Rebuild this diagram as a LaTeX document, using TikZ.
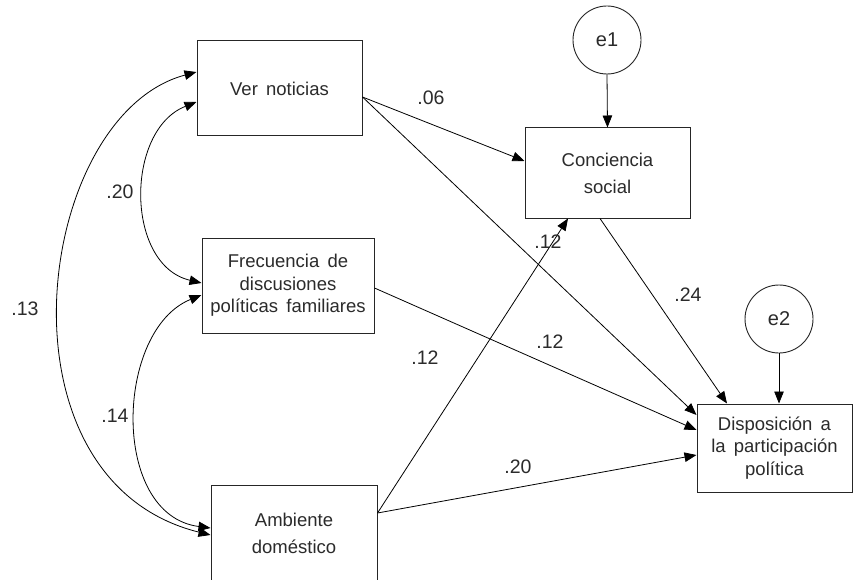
\documentclass[tikz,border=0pt]{standalone}
\usepackage{fontspec}
\setmainfont{Liberation Sans}[WordSpace=1.6]
\usetikzlibrary{arrows.meta}
\definecolor{txt}{HTML}{2B2B2B}
\begin{document}
\begin{tikzpicture}[x=1pt,y=-1pt,
  var/.style={draw=black!85,line width=1pt,rectangle,inner sep=0pt,align=center,
    text=txt,font=\fontsize{18.5}{27}\selectfont},
  var3/.style={var,font=\fontsize{18.5}{22.5}\selectfont},
  err/.style={draw=black!85,line width=0.9pt,circle,minimum size=68pt,inner sep=0pt,
    text=txt,font=\fontsize{20}{22}\selectfont},
  path/.style={draw=black,line width=0.8pt,-{Triangle[length=12pt,width=9.5pt]}},
  cov/.style={draw=black,line width=0.8pt,{Triangle[length=12pt,width=9.5pt]}-{Triangle[length=12pt,width=9.5pt]}},
  coef/.style={text=txt,font=\fontsize{19.5}{22}\selectfont,inner sep=0pt}]
\useasboundingbox (0,0) rectangle (853,580);
\fill[white] (0,0) rectangle (853,580);
% variables
\node[var,minimum width=165pt,minimum height=95pt] (ver) at (279.5,88.5) {Ver noticias};
\node[var3,minimum width=172pt,minimum height=95pt] (frec) at (288,285.5) {Frecuencia de\\discusiones\\políticas familiares};
\node[var,minimum width=166pt,minimum height=96pt] (amb) at (294,533) {Ambiente\\doméstico};
\node[var,minimum width=165pt,minimum height=90pt] (conc) at (607.5,173) {Conciencia\\social};
\node[var3,minimum width=155pt,minimum height=88pt] (disp) at (774.5,448) {Disposición a\\la participación\\política};
\node[err] (e1) at (607,40) {e1};
\node[err] (e2) at (779,319) {e2};
% paths
\draw[path] ([yshift=-8.5pt]ver.east) -- ([yshift=12pt]conc.west);
\draw[path] ([yshift=-8.5pt]ver.east) -- ([yshift=33pt]disp.west);
\draw[path] ([yshift=-2.5pt]frec.east) -- ([yshift=18pt]disp.west);
\draw[path] ([yshift=20pt]amb.east) -- ([xshift=-39.5pt]conc.south);
\draw[path] ([yshift=20pt]amb.east) -- ([yshift=-7pt]disp.west);
\draw[path] ([xshift=-7.5pt]conc.south) -- ([xshift=-47.5pt]disp.north);
\draw[path] (e1.south) -- (conc.north);
\draw[path] (e2.south) -- ([xshift=4.5pt]disp.north);
% covariances
\draw[cov] ([yshift=16.5pt]ver.west) .. controls (35,115) and (-12,480) .. ([yshift=-2pt]amb.west);
\draw[cov] ([yshift=-13.5pt]ver.west) .. controls (125,130) and (125,265) .. ([yshift=2.5pt]frec.west);
\draw[cov] ([yshift=-9.5pt]frec.west) .. controls (115,330) and (110,515) .. ([yshift=5pt]amb.west);
% coefficients
\node[coef] (c06) at (431,98) {.06};
\node[coef] (c12a) at (548,242) {.12};
\node[coef] (c24) at (688,295) {.24};
\node[coef] (c12b) at (550,342) {.12};
\node[coef] (c12c) at (425,358) {.12};
\node[coef] (c20a) at (518,467) {.20};
\node[coef] (c20b) at (120,192) {.20};
\node[coef] (c13) at (25,309) {.13};
\node[coef] (c14) at (115,416) {.14};
\end{tikzpicture}
\end{document}
